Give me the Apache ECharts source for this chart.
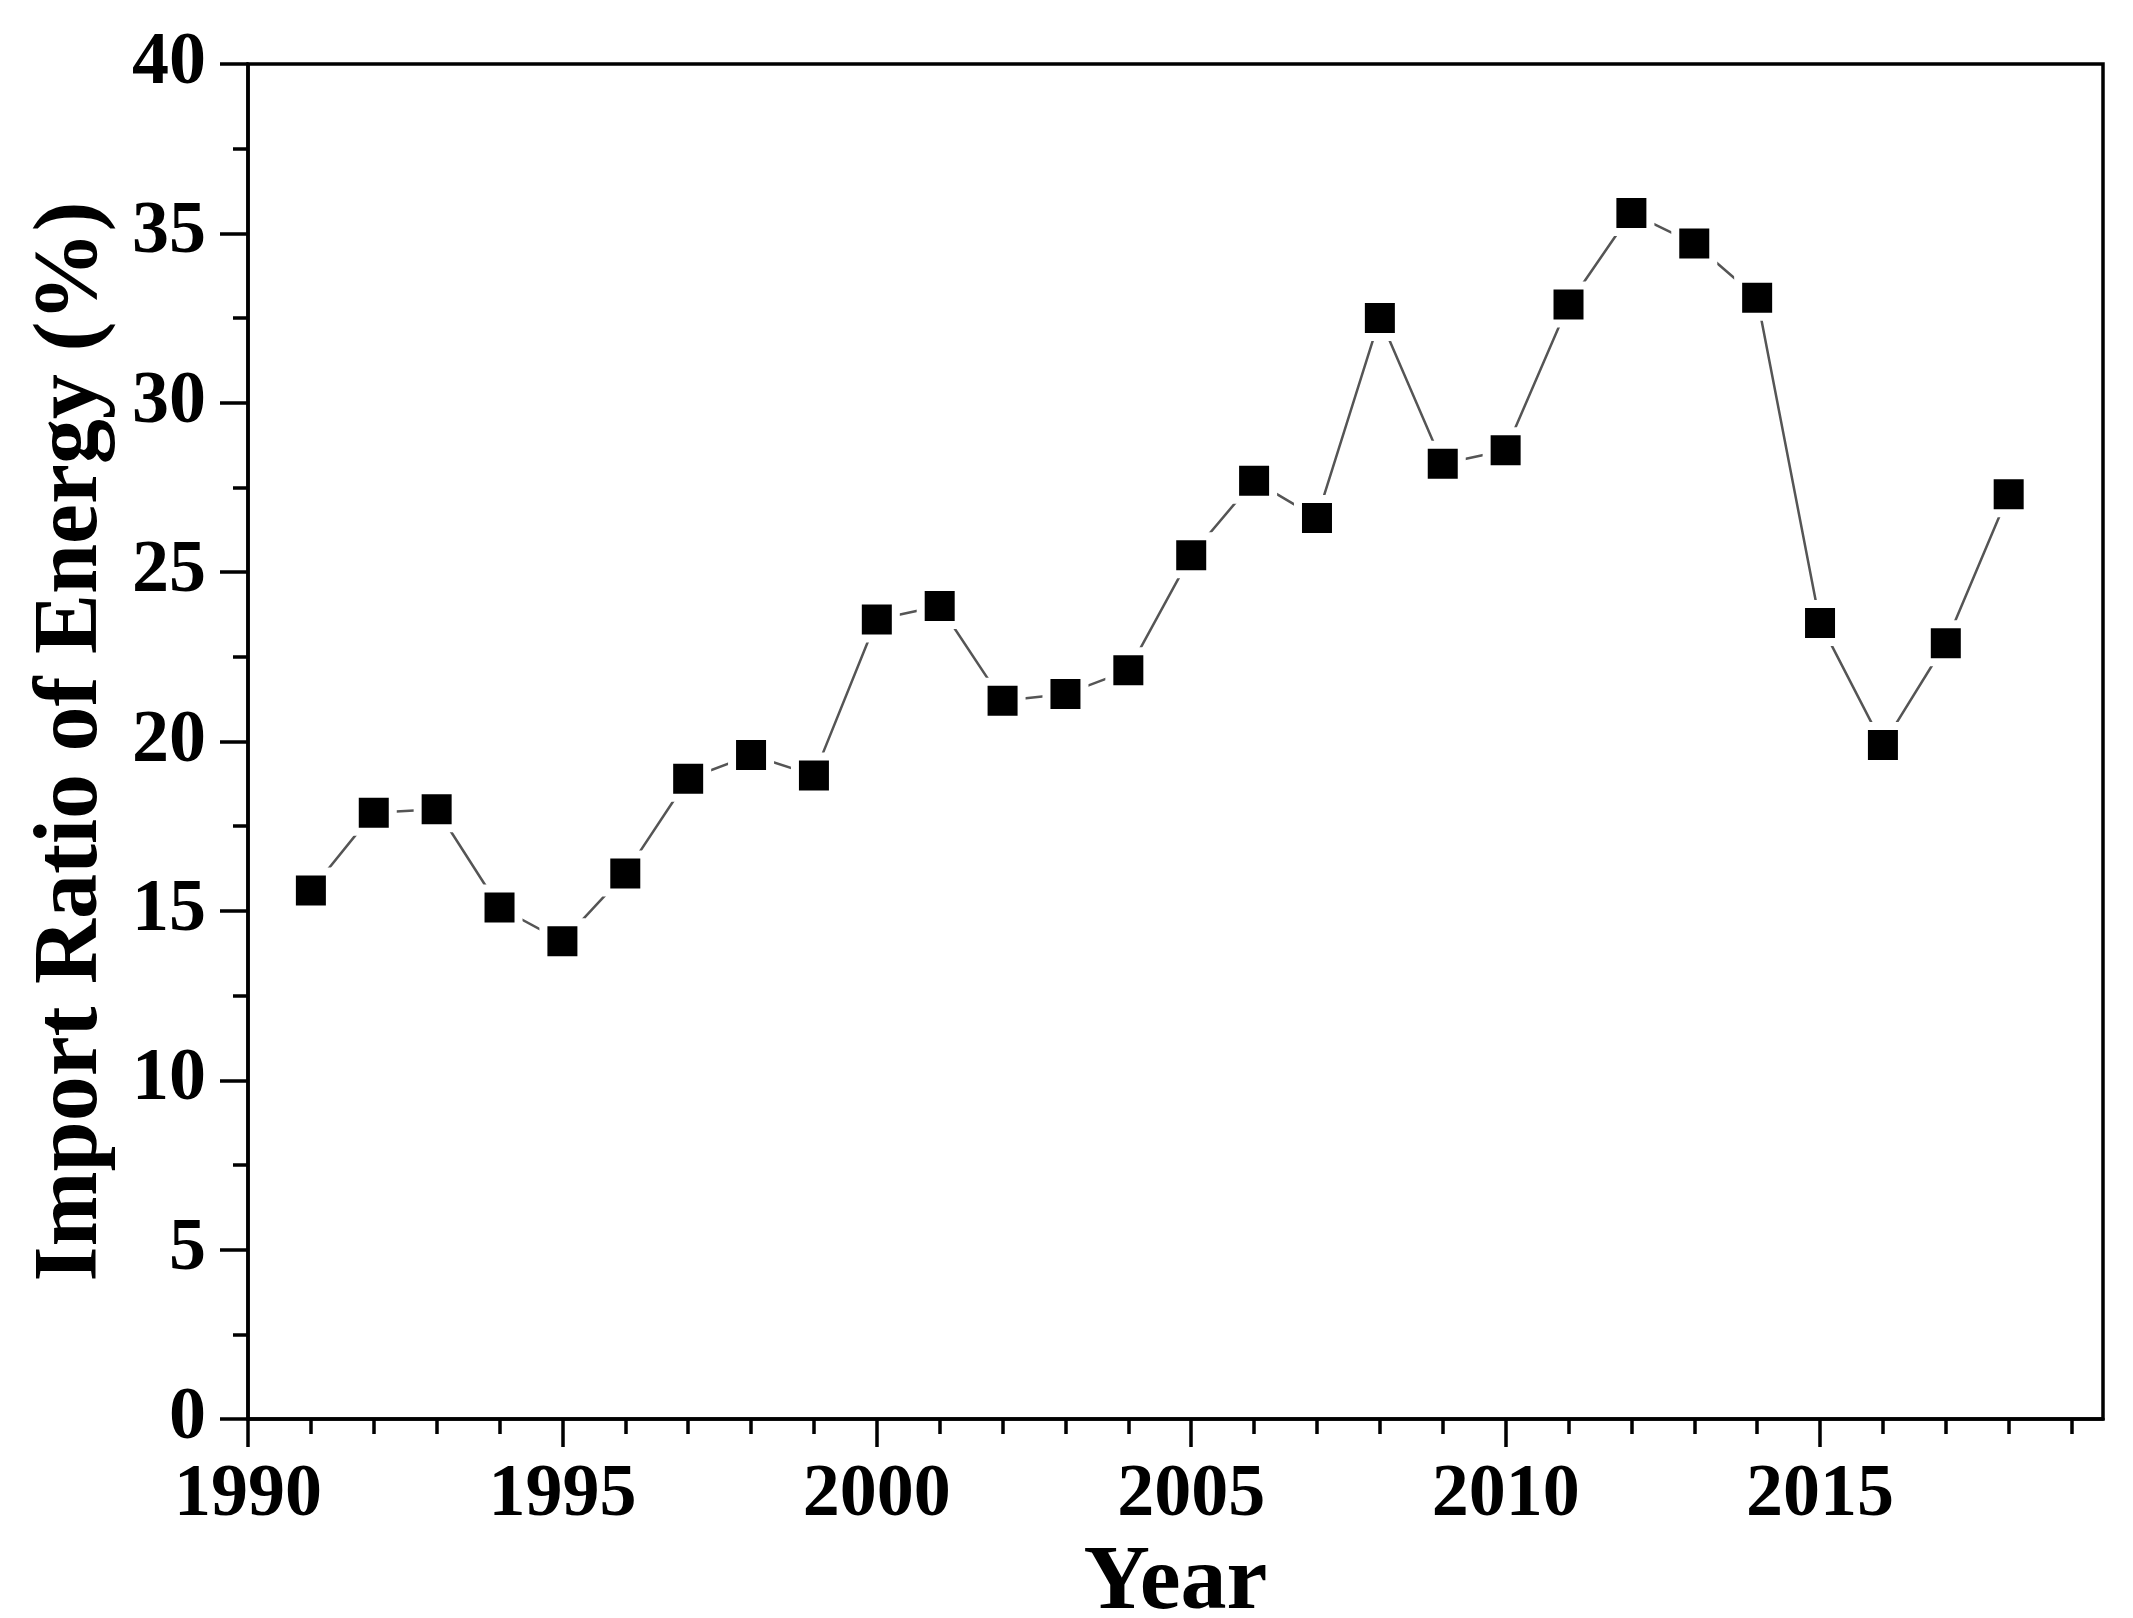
<!DOCTYPE html>
<html>
<head>
<meta charset="utf-8">
<script src="https://cdn.jsdelivr.net/npm/echarts@6/dist/echarts.min.js"></script>
<style>
  html, body { margin: 0; padding: 0; background: #fff; }
  #chart { width: 2133px; height: 1618px; }
</style>
</head>
<body>
<div id="chart"></div>
<script>
var years = [1991, 1992, 1993, 1994, 1995, 1996, 1997, 1998, 1999, 2000,
  2001, 2002, 2003, 2004, 2005, 2006, 2007, 2008, 2009, 2010,
  2011, 2012, 2013, 2014, 2015, 2016, 2017, 2018]
var importRatio = [15.6, 17.9, 18.0, 15.1, 14.1, 16.1, 18.9, 19.6, 19.0, 23.6,
  24.0, 21.2, 21.4, 22.1, 25.5, 27.7, 26.6, 32.5, 28.2, 28.6,
  32.9, 35.6, 34.7, 33.1, 23.5, 19.9, 22.9, 27.3]
var majorYears = [1990, 1995, 2000, 2005, 2010, 2015]
var minorYears = [1991, 1992, 1993, 1994, 1996, 1997, 1998, 1999, 2001, 2002,
  2003, 2004, 2006, 2007, 2008, 2009, 2011, 2012, 2013, 2014,
  2016, 2017, 2018, 2019]

var font = 'Liberation Serif, Times New Roman, serif'
var chart = echarts.init(document.getElementById('chart'))

chart.setOption({
  animation: false,
  grid: {
    left: 248,
    right: 30,
    top: 64,
    bottom: 199,
    outerBoundsMode: 'none',
    show: true,
    borderColor: '#000',
    borderWidth: 3.5
  },
  xAxis: [
    {
      type: 'value',
      min: 1990,
      max: 2019.5,
      interval: 5,
      position: 'bottom',
      name: 'Year',
      nameLocation: 'middle',
      nameGap: 95,
      nameTextStyle: { fontFamily: font, fontWeight: 'bold', fontSize: 92, color: '#000' },
      axisLine: { lineStyle: { color: '#000', width: 3.5 } },
      axisTick: { customValues: majorYears, length: 28, lineStyle: { color: '#000', width: 3.5 } },
      axisLabel: {
        customValues: majorYears,
        formatter: function(v) { return String(v) },
        margin: 40,
        fontFamily: font,
        fontWeight: 'bold',
        fontSize: 74,
        color: '#000'
      },
      splitLine: { show: false }
    },
    {
      type: 'value',
      min: 1990,
      max: 2019.5,
      position: 'bottom',
      axisLine: { show: false },
      axisTick: { customValues: minorYears, length: 15, lineStyle: { color: '#000', width: 3.5 } },
      axisLabel: { show: false },
      splitLine: { show: false }
    }
  ],
  yAxis: {
    type: 'value',
    min: 0,
    max: 40,
    interval: 5,
    name: 'Import Ratio of Energy (%)',
    nameLocation: 'middle',
    nameGap: 130,
    nameTextStyle: { fontFamily: font, fontWeight: 'bold', fontSize: 90, color: '#000' },
    axisLine: { show: true, lineStyle: { color: '#000', width: 3.5 } },
    axisTick: { show: true, length: 28, lineStyle: { color: '#000', width: 3.5 } },
    minorTick: { show: true, splitNumber: 2, length: 15, lineStyle: { color: '#000', width: 3.5 } },
    axisLabel: {
      margin: 42,
      fontFamily: font,
      fontWeight: 'bold',
      fontSize: 74,
      color: '#000'
    },
    splitLine: { show: false }
  },
  series: [
    {
      type: 'line',
      xAxisIndex: 0,
      data: years.map(function(y, i) { return [y, importRatio[i]] }),
      symbol: 'rect',
      symbolSize: 38,
      lineStyle: { color: '#555', width: 2.5 },
      itemStyle: { color: '#000', borderColor: '#fff', borderWidth: 8 }
    }
  ]
})
</script>
</body>
</html>
